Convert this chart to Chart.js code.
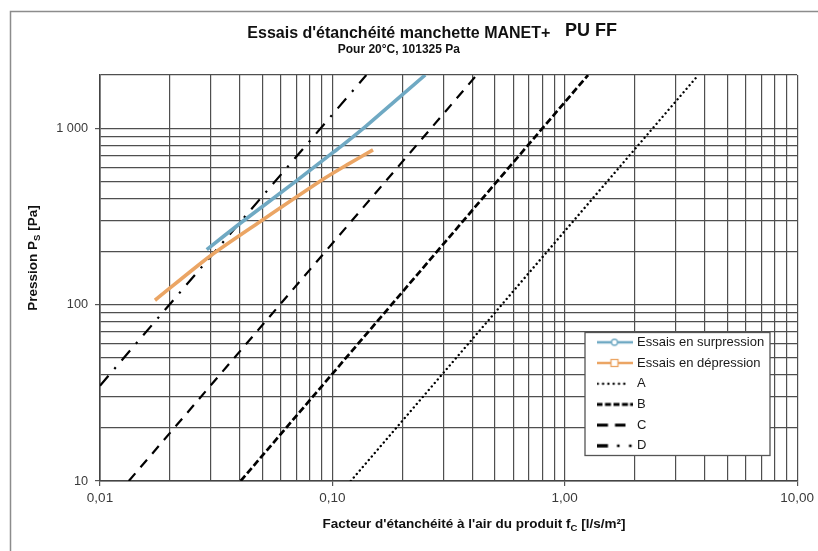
<!DOCTYPE html>
<html>
<head>
<meta charset="utf-8">
<script src="https://cdn.jsdelivr.net/npm/chart.js@4.4.1/dist/chart.umd.min.js"></script>
<style>
html,body{margin:0;padding:0;background:#fff;}
#wrap{position:relative;width:818px;height:551px;}
</style>
</head>
<body>
<div id="wrap"><canvas id="c" width="818" height="551"></canvas></div>
<script>
// ---- data ----
const seriesNames = ['Essais en surpression', 'Essais en dépression', 'A', 'B', 'C', 'D'];

const surpressionX = [0.0288, 0.040, 0.070, 0.1007, 0.1076, 0.140, 0.251];
const surpressionY = [205, 288, 502, 728, 777, 1030, 2000];

const depressionX = [0.01724, 0.0297, 0.0488, 0.0912, 0.115, 0.1496];
const depressionY = [105.8, 188, 295, 513, 617, 753];

const classAX = [0.12, 3.76];
const classAY = [10, 2000];
const classBX = [0.0403, 1.26];
const classBY = [10, 2000];
const classCX = [0.0133, 0.418];
const classCY = [10, 2000];
const classDX = [0.01, 0.140];
const classDY = [34.7, 2000];

const xTickValues = [0.01, 0.1, 1, 10];
const xTickLabels = ['0,01', '0,10', '1,00', '10,00'];
const yTickValues = [10, 100, 1000];
const yTickLabels = ['10', '100', '1 000'];

const xMin = 0.01, xMax = 10, yMin = 10, yMax = 2000;

// ---- helpers ----
const FONT = "'Liberation Sans', Arial, sans-serif";
Chart.defaults.font.family = FONT;

function pts(xs, ys) { return xs.map((x, i) => ({ x: x, y: ys[i] })); }
function gridValues(majors, max) {
  const out = [];
  majors.forEach(d => { for (let k = 1; k <= 9; k++) { const v = +(d * k).toPrecision(6); if (v <= max * 1.0000001) out.push(v); } });
  if (!out.some(v => Math.abs(v - max) / max < 1e-6)) out.push(max);
  return out;
}
function labelFor(v, vals, labels) {
  for (let i = 0; i < vals.length; i++) if (Math.abs(v - vals[i]) / vals[i] < 1e-6) return labels[i];
  return '';
}
function isMajorOf(v, vals) { return vals.some(t => Math.abs(v - t) / t < 1e-6); }

const xGrid = gridValues([0.01, 0.1, 1], xMax);
const yGrid = gridValues([10, 100, 1000], yMax);

const BLUE = '#6fa9c3';
const ORANGE = '#eba564';
const BLACK = '#000000';

function makeIcon(draw) {
  const c = document.createElement('canvas');
  c.width = 36; c.height = 12;
  const g = c.getContext('2d');
  draw(g);
  return c;
}
const legendIcons = [
  makeIcon(g => {
    g.strokeStyle = BLUE; g.lineWidth = 2.5;
    g.beginPath(); g.moveTo(0, 6); g.lineTo(36, 6); g.stroke();
    g.beginPath(); g.arc(18, 6, 3, 0, Math.PI * 2); g.fillStyle = '#fff'; g.fill();
    g.lineWidth = 1.3; g.stroke();
  }),
  makeIcon(g => {
    g.strokeStyle = ORANGE; g.lineWidth = 2.5;
    g.beginPath(); g.moveTo(0, 6); g.lineTo(36, 6); g.stroke();
    g.fillStyle = '#fff'; g.fillRect(14.5, 2.5, 7, 7);
    g.lineWidth = 1.3; g.strokeRect(14.5, 2.5, 7, 7);
  }),
  makeIcon(g => {
    g.fillStyle = BLACK;
    for (let i = 0; i < 6; i++) { g.beginPath(); g.arc(1.3 + i * 5.3, 6, 1.2, 0, Math.PI * 2); g.fill(); }
  }),
  makeIcon(g => {
    g.fillStyle = BLACK;
    [[0, 6], [8.5, 6], [17, 6], [25.5, 6], [33.5, 2.5]].forEach(s => g.fillRect(s[0], 4.5, s[1], 3));
  }),
  makeIcon(g => {
    g.fillStyle = BLACK;
    [[0, 11.5], [18.5, 10.5]].forEach(s => g.fillRect(s[0], 4.5, s[1], 3));
  }),
  makeIcon(g => {
    g.fillStyle = BLACK;
    g.fillRect(0, 4.3, 11.5, 3.4);
    g.fillRect(20.5, 4.7, 2.6, 2.6);
    g.fillRect(32.5, 4.7, 2.6, 2.6);
  })
];

function richText(ctx, parts, cx, cy, angle) {
  ctx.save();
  ctx.translate(cx, cy);
  ctx.rotate(angle);
  let total = 0;
  parts.forEach(p => { ctx.font = p.font; p.w = ctx.measureText(p.t).width; total += p.w; });
  let x = -total / 2;
  ctx.textBaseline = 'alphabetic';
  ctx.fillStyle = '#111';
  parts.forEach(p => { ctx.font = p.font; ctx.fillText(p.t, x, p.dy); x += p.w; });
  ctx.restore();
}

const decor = {
  id: 'decor',
  beforeDraw(chart) {
    const ctx = chart.ctx;
    ctx.save();
    ctx.fillStyle = '#fff';
    ctx.fillRect(0, 0, chart.width, chart.height);
    ctx.strokeStyle = '#8c8c8c';
    ctx.lineWidth = 1.5;
    ctx.beginPath();
    ctx.moveTo(10.5, chart.height);
    ctx.lineTo(10.5, 11.5);
    ctx.lineTo(chart.width, 11.5);
    ctx.stroke();
    ctx.restore();
  },
  afterLayout(chart) {
    const lg = chart.legend;
    if (!lg) return;
    const w = lg.width, h = lg.height;
    lg.left = 590.8; lg.top = 328.1;
    lg.right = lg.left + w; lg.bottom = lg.top + h;
  },
  beforeDatasetsDraw(chart) {
    const ctx = chart.ctx;
    ctx.save();
    ctx.fillStyle = '#fff';
    ctx.fillRect(585, 332.5, 185, 123);
    ctx.strokeStyle = '#555';
    ctx.lineWidth = 1.3;
    ctx.strokeRect(585, 332.5, 185, 123);
    ctx.restore();
    if (chart.legend) chart.legend.draw();
  },
  afterDraw(chart) {
    const ctx = chart.ctx;
    ctx.save();
    ctx.font = "bold 18px " + FONT;
    ctx.fillStyle = '#111';
    ctx.textBaseline = 'middle';
    ctx.textAlign = 'left';
    ctx.fillText('PU FF', 565, 31.3);
    ctx.restore();
    const big = "bold 13.5px " + FONT, small = "bold 9.5px " + FONT;
    richText(ctx, [
      { t: 'Facteur d\'étanchéité à l\'air du produit f', font: big, dy: 0 },
      { t: 'C', font: small, dy: 3 },
      { t: ' [l/s/m²]', font: big, dy: 0 }
    ], 474, 527.8, 0);
    richText(ctx, [
      { t: 'Pression P', font: big, dy: 0 },
      { t: 'S', font: small, dy: 3 },
      { t: ' [Pa]', font: big, dy: 0 }
    ], 36.8, 258, -Math.PI / 2);
  }
};

const lineBase = { pointRadius: 0, pointHoverRadius: 0, fill: false, borderCapStyle: 'butt', borderJoinStyle: 'round', tension: 0, clip: 0 };

const datasets = [
  Object.assign({}, lineBase, { label: seriesNames[0], data: pts(surpressionX, surpressionY), borderColor: BLUE, borderWidth: 3.6, tension: 0.15 }),
  Object.assign({}, lineBase, { label: seriesNames[1], data: pts(depressionX, depressionY), borderColor: ORANGE, borderWidth: 3.6, tension: 0.25 }),
  Object.assign({}, lineBase, { label: seriesNames[2], data: pts(classAX, classAY), borderColor: BLACK, borderWidth: 2.4, borderDash: [0.01, 4.6], borderCapStyle: 'round' }),
  Object.assign({}, lineBase, { label: seriesNames[3], data: pts(classBX, classBY), borderColor: BLACK, borderWidth: 2.7, borderDash: [7, 3] }),
  Object.assign({}, lineBase, { label: seriesNames[4], data: pts(classCX, classCY), borderColor: BLACK, borderWidth: 2.2, borderDash: [10, 8] }),
  Object.assign({}, lineBase, { label: seriesNames[5], data: pts(classDX, classDY), borderColor: BLACK, borderWidth: 2.2, borderDash: [13, 9, 2.2, 9] })
];

const gridColor = '#4f4f4f';

new Chart(document.getElementById('c'), {
  type: 'line',
  data: { datasets: datasets },
  options: {
    responsive: false,
    animation: false,
    events: [],
    layout: { padding: { top: 0, left: 0, right: 20.3, bottom: 0 } },
    scales: {
      x: {
        type: 'logarithmic',
        min: xMin, max: xMax,
        afterBuildTicks: s => { s.ticks = xGrid.map(v => ({ value: v, major: isMajorOf(v, xTickValues) })); },
        afterFit: s => { s.height = 70; },
        ticks: {
          autoSkip: false, maxRotation: 0, minRotation: 0, padding: 4,
          font: { size: 13.5 }, color: '#3a3a3a',
          callback: v => labelFor(v, xTickValues, xTickLabels)
        },
        grid: {
          color: gridColor, lineWidth: 1.2, tickLength: 5, tickWidth: 1.2,
          tickColor: c => (c.tick && c.tick.major) ? '#555' : 'rgba(0,0,0,0)'
        },
        border: { color: '#444', width: 1.6 }
      },
      y: {
        type: 'logarithmic',
        min: yMin, max: yMax,
        afterBuildTicks: s => { s.ticks = yGrid.map(v => ({ value: v, major: isMajorOf(v, yTickValues) })); },
        afterFit: s => { s.width = 100; },
        ticks: {
          autoSkip: false, padding: 7,
          font: { size: 12.7 }, color: '#3a3a3a',
          callback: v => labelFor(v, yTickValues, yTickLabels)
        },
        grid: {
          color: gridColor, lineWidth: 1.2, tickLength: 5, tickWidth: 1.2,
          tickColor: c => (c.tick && c.tick.major) ? '#555' : 'rgba(0,0,0,0)'
        },
        border: { color: '#444', width: 1.6 }
      }
    },
    plugins: {
      tooltip: { enabled: false },
      title: {
        display: true,
        text: "Essais d'étanchéité manchette MANET+",
        color: '#111',
        font: { size: 16, weight: 'bold', lineHeight: 1.0 },
        padding: { top: 25.5, bottom: 0 }
      },
      subtitle: {
        display: true,
        text: 'Pour 20°C, 101325 Pa',
        color: '#111',
        font: { size: 12, weight: 'bold', lineHeight: 1.0 },
        padding: { top: 1.7, bottom: 19.8 }
      },
      legend: {
        display: true,
        position: 'chartArea',
        align: 'start',
        labels: {
          usePointStyle: true,
          pointStyleWidth: 32,
          padding: 7.7,
          color: '#1a1a1a',
          font: { size: 13 },
          generateLabels: chart => chart.data.datasets.map((ds, i) => ({
            text: ds.label,
            pointStyle: legendIcons[i],
            datasetIndex: i,
            hidden: false,
            fontColor: '#1a1a1a',
            fillStyle: 'rgba(0,0,0,0)',
            strokeStyle: 'rgba(0,0,0,0)',
            lineWidth: 0
          }))
        }
      }
    }
  },
  plugins: [decor]
});
</script>
</body>
</html>
